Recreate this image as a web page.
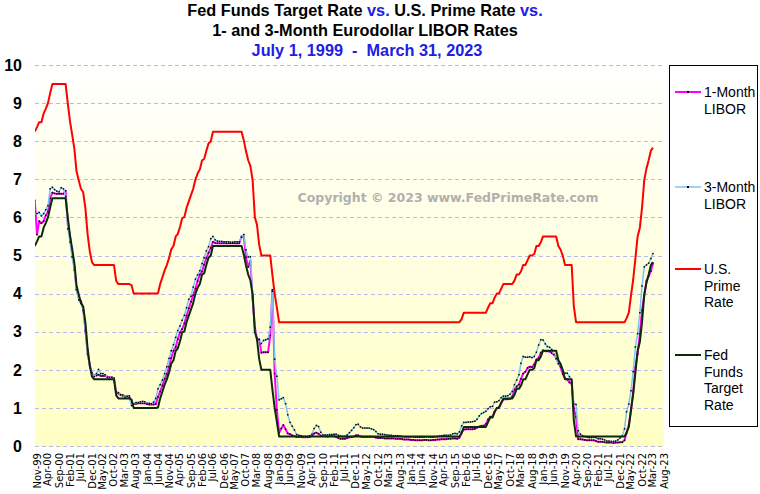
<!DOCTYPE html>
<html>
<head>
<meta charset="utf-8">
<script src="https://cdn.jsdelivr.net/npm/d3@7"></script>
<style>
  body { margin: 0; background: #fff; }
  svg { display: block; }
</style>
</head>
<body>
<div id="chart"></div>
<script>
let width = 760
let height = 494
let plot = { left: 35, right: 664, top: 60, bottom: 447 }

// monthly averages, Oct 1999 through Mar 2023 (one row per year)
const libor1m = [
  6.45, 5.55, 5.90,
  5.85, 5.90, 6.05, 6.15, 6.50, 6.65, 6.63, 6.62, 6.62, 6.62, 6.62, 6.70,
  5.80, 5.50, 5.05, 4.70, 4.10, 3.90, 3.80, 3.60, 3.05, 2.45, 2.10, 1.90,
  1.85, 1.85, 1.87, 1.84, 1.84, 1.84, 1.82, 1.80, 1.80, 1.78, 1.40, 1.38,
  1.34, 1.32, 1.30, 1.30, 1.31, 1.12, 1.10, 1.11, 1.12, 1.12, 1.12, 1.12,
  1.10, 1.09, 1.09, 1.09, 1.10, 1.29, 1.43, 1.59, 1.76, 1.88, 2.08, 2.31,
  2.50, 2.60, 2.80, 2.98, 3.07, 3.22, 3.42, 3.61, 3.79, 3.96, 4.13, 4.33,
  4.50, 4.58, 4.76, 4.93, 5.07, 5.20, 5.36, 5.33, 5.32, 5.32, 5.32, 5.33,
  5.32, 5.32, 5.32, 5.32, 5.32, 5.32, 5.32, 5.50, 5.50, 4.95, 4.70, 4.85,
  3.85, 3.12, 2.80, 2.80, 2.45, 2.46, 2.46, 2.46, 2.90, 4.10, 1.90, 0.95,
  0.35, 0.46, 0.55, 0.44, 0.33, 0.31, 0.28, 0.26, 0.24, 0.24, 0.24, 0.23,
  0.23, 0.23, 0.24, 0.26, 0.33, 0.35, 0.32, 0.27, 0.26, 0.26, 0.25, 0.26,
  0.26, 0.26, 0.24, 0.21, 0.19, 0.19, 0.19, 0.21, 0.23, 0.24, 0.25, 0.28,
  0.28, 0.25, 0.24, 0.24, 0.24, 0.24, 0.24, 0.24, 0.22, 0.21, 0.21, 0.21,
  0.20, 0.20, 0.20, 0.20, 0.20, 0.19, 0.19, 0.19, 0.18, 0.17, 0.17, 0.17,
  0.16, 0.16, 0.15, 0.15, 0.15, 0.15, 0.16, 0.16, 0.15, 0.15, 0.16, 0.16,
  0.17, 0.17, 0.18, 0.18, 0.18, 0.19, 0.19, 0.20, 0.20, 0.19, 0.22, 0.36,
  0.43, 0.44, 0.44, 0.44, 0.44, 0.45, 0.48, 0.51, 0.53, 0.53, 0.58, 0.70,
  0.77, 0.77, 0.90, 0.99, 1.02, 1.13, 1.22, 1.23, 1.23, 1.24, 1.30, 1.48,
  1.56, 1.61, 1.76, 1.90, 1.95, 2.05, 2.08, 2.07, 2.14, 2.27, 2.31, 2.45,
  2.51, 2.49, 2.49, 2.48, 2.44, 2.40, 2.30, 2.18, 2.07, 1.89, 1.77, 1.75,
  1.67, 1.63, 0.99, 0.76, 0.18, 0.18, 0.17, 0.16, 0.15, 0.15, 0.15, 0.15,
  0.13, 0.11, 0.11, 0.11, 0.10, 0.09, 0.09, 0.09, 0.08, 0.09, 0.09, 0.10,
  0.10, 0.15, 0.34, 0.55, 0.93, 1.42, 2.07, 2.42, 2.93, 3.56, 3.94, 4.33,
  4.46, 4.59, 4.79
]

const libor3m = [
  6.05, 6.10, 6.13,
  6.04, 6.10, 6.20, 6.31, 6.75, 6.79, 6.73, 6.69, 6.67, 6.78, 6.75, 6.55,
  5.70, 5.35, 4.96, 4.62, 4.10, 3.83, 3.75, 3.56, 3.02, 2.40, 2.10, 1.92,
  1.82, 1.90, 2.01, 1.90, 1.90, 1.87, 1.80, 1.75, 1.80, 1.75, 1.43, 1.40,
  1.35, 1.34, 1.28, 1.30, 1.28, 1.06, 1.11, 1.14, 1.14, 1.16, 1.17, 1.16,
  1.12, 1.12, 1.11, 1.15, 1.25, 1.50, 1.61, 1.73, 1.90, 2.08, 2.30, 2.50,
  2.66, 2.85, 3.03, 3.15, 3.30, 3.43, 3.63, 3.85, 3.93, 4.17, 4.38, 4.49,
  4.60, 4.79, 4.94, 5.12, 5.23, 5.44, 5.50, 5.41, 5.38, 5.37, 5.37, 5.36,
  5.36, 5.36, 5.35, 5.35, 5.36, 5.36, 5.36, 5.48, 5.55, 5.15, 4.96, 4.97,
  3.92, 3.09, 2.78, 2.79, 2.69, 2.77, 2.79, 2.81, 3.12, 4.06, 2.28, 1.83,
  1.21, 1.24, 1.27, 1.11, 0.82, 0.62, 0.52, 0.42, 0.30, 0.28, 0.27, 0.25,
  0.25, 0.25, 0.27, 0.31, 0.46, 0.54, 0.51, 0.36, 0.29, 0.29, 0.29, 0.30,
  0.30, 0.31, 0.31, 0.28, 0.26, 0.25, 0.25, 0.29, 0.35, 0.41, 0.48, 0.56,
  0.57, 0.50, 0.47, 0.47, 0.47, 0.47, 0.45, 0.43, 0.38, 0.32, 0.31, 0.31,
  0.30, 0.29, 0.28, 0.28, 0.27, 0.27, 0.27, 0.26, 0.25, 0.24, 0.24, 0.24,
  0.24, 0.24, 0.23, 0.23, 0.23, 0.23, 0.23, 0.24, 0.24, 0.23, 0.23, 0.24,
  0.25, 0.26, 0.27, 0.28, 0.28, 0.28, 0.29, 0.32, 0.33, 0.32, 0.37, 0.53,
  0.62, 0.62, 0.63, 0.63, 0.64, 0.65, 0.70, 0.79, 0.85, 0.88, 0.91, 0.98,
  1.03, 1.04, 1.15, 1.16, 1.19, 1.27, 1.31, 1.31, 1.32, 1.36, 1.43, 1.61,
  1.73, 1.87, 2.17, 2.35, 2.33, 2.33, 2.34, 2.32, 2.35, 2.46, 2.65, 2.79,
  2.78, 2.68, 2.61, 2.59, 2.53, 2.40, 2.29, 2.16, 2.13, 1.98, 1.91, 1.91,
  1.82, 1.68, 1.10, 1.09, 0.40, 0.31, 0.27, 0.25, 0.23, 0.22, 0.22, 0.23,
  0.22, 0.19, 0.19, 0.18, 0.16, 0.13, 0.13, 0.12, 0.12, 0.13, 0.16, 0.21,
  0.26, 0.45, 0.90, 1.10, 1.45, 1.95, 2.60, 2.95, 3.50, 4.20, 4.70, 4.75,
  4.80, 4.92, 5.05
]

const primeRate = [
  8.25, 8.37, 8.50,
  8.50, 8.73, 8.85, 9.00, 9.26, 9.50, 9.50, 9.50, 9.50, 9.50, 9.50, 9.50,
  8.98, 8.50, 8.18, 7.80, 7.21, 6.97, 6.75, 6.66, 6.23, 5.56, 5.10, 4.82,
  4.75, 4.75, 4.75, 4.75, 4.75, 4.75, 4.75, 4.75, 4.75, 4.75, 4.33, 4.25,
  4.25, 4.25, 4.25, 4.25, 4.25, 4.22, 4.00, 4.00, 4.00, 4.00, 4.00, 4.00,
  4.00, 4.00, 4.00, 4.00, 4.00, 4.01, 4.25, 4.43, 4.61, 4.75, 4.93, 5.16,
  5.25, 5.50, 5.56, 5.75, 5.98, 6.01, 6.25, 6.42, 6.59, 6.75, 7.00, 7.15,
  7.26, 7.50, 7.53, 7.75, 7.94, 8.00, 8.25, 8.25, 8.25, 8.25, 8.25, 8.25,
  8.25, 8.25, 8.25, 8.25, 8.25, 8.25, 8.25, 8.25, 8.02, 7.74, 7.50, 7.35,
  6.98, 6.00, 5.81, 5.28, 5.00, 5.00, 5.00, 5.00, 5.00, 4.48, 4.00, 3.64,
  3.25, 3.25, 3.25, 3.25, 3.25, 3.25, 3.25, 3.25, 3.25, 3.25, 3.25, 3.25,
  3.25, 3.25, 3.25, 3.25, 3.25, 3.25, 3.25, 3.25, 3.25, 3.25, 3.25, 3.25,
  3.25, 3.25, 3.25, 3.25, 3.25, 3.25, 3.25, 3.25, 3.25, 3.25, 3.25, 3.25,
  3.25, 3.25, 3.25, 3.25, 3.25, 3.25, 3.25, 3.25, 3.25, 3.25, 3.25, 3.25,
  3.25, 3.25, 3.25, 3.25, 3.25, 3.25, 3.25, 3.25, 3.25, 3.25, 3.25, 3.25,
  3.25, 3.25, 3.25, 3.25, 3.25, 3.25, 3.25, 3.25, 3.25, 3.25, 3.25, 3.25,
  3.25, 3.25, 3.25, 3.25, 3.25, 3.25, 3.25, 3.25, 3.25, 3.25, 3.25, 3.33,
  3.50, 3.50, 3.50, 3.50, 3.50, 3.50, 3.50, 3.50, 3.50, 3.50, 3.50, 3.63,
  3.75, 3.75, 3.89, 4.00, 4.00, 4.13, 4.25, 4.25, 4.25, 4.25, 4.25, 4.34,
  4.50, 4.50, 4.58, 4.75, 4.75, 4.88, 5.00, 5.00, 5.04, 5.25, 5.25, 5.35,
  5.50, 5.50, 5.50, 5.50, 5.50, 5.50, 5.50, 5.25, 5.15, 4.99, 4.75, 4.75,
  4.75, 4.75, 3.68, 3.25, 3.25, 3.25, 3.25, 3.25, 3.25, 3.25, 3.25, 3.25,
  3.25, 3.25, 3.25, 3.25, 3.25, 3.25, 3.25, 3.25, 3.25, 3.25, 3.25, 3.25,
  3.25, 3.25, 3.35, 3.50, 3.94, 4.37, 4.92, 5.50, 5.73, 6.25, 6.98, 7.28,
  7.50, 7.75, 7.83
]

const fedFunds = [
  5.25, 5.37, 5.50,
  5.50, 5.73, 5.85, 6.00, 6.26, 6.50, 6.50, 6.50, 6.50, 6.50, 6.50, 6.50,
  5.98, 5.50, 5.18, 4.80, 4.21, 3.97, 3.75, 3.66, 3.23, 2.56, 2.10, 1.82,
  1.75, 1.75, 1.75, 1.75, 1.75, 1.75, 1.75, 1.75, 1.75, 1.75, 1.33, 1.25,
  1.25, 1.25, 1.25, 1.25, 1.25, 1.22, 1.00, 1.00, 1.00, 1.00, 1.00, 1.00,
  1.00, 1.00, 1.00, 1.00, 1.00, 1.01, 1.25, 1.43, 1.61, 1.75, 1.93, 2.16,
  2.25, 2.50, 2.56, 2.75, 2.98, 3.01, 3.25, 3.42, 3.59, 3.75, 4.00, 4.15,
  4.26, 4.50, 4.53, 4.75, 4.94, 5.00, 5.25, 5.25, 5.25, 5.25, 5.25, 5.25,
  5.25, 5.25, 5.25, 5.25, 5.25, 5.25, 5.25, 5.25, 5.02, 4.74, 4.50, 4.35,
  3.98, 3.00, 2.81, 2.28, 2.00, 2.00, 2.00, 2.00, 2.00, 1.48, 1.00, 0.64,
  0.25, 0.25, 0.25, 0.25, 0.25, 0.25, 0.25, 0.25, 0.25, 0.25, 0.25, 0.25,
  0.25, 0.25, 0.25, 0.25, 0.25, 0.25, 0.25, 0.25, 0.25, 0.25, 0.25, 0.25,
  0.25, 0.25, 0.25, 0.25, 0.25, 0.25, 0.25, 0.25, 0.25, 0.25, 0.25, 0.25,
  0.25, 0.25, 0.25, 0.25, 0.25, 0.25, 0.25, 0.25, 0.25, 0.25, 0.25, 0.25,
  0.25, 0.25, 0.25, 0.25, 0.25, 0.25, 0.25, 0.25, 0.25, 0.25, 0.25, 0.25,
  0.25, 0.25, 0.25, 0.25, 0.25, 0.25, 0.25, 0.25, 0.25, 0.25, 0.25, 0.25,
  0.25, 0.25, 0.25, 0.25, 0.25, 0.25, 0.25, 0.25, 0.25, 0.25, 0.25, 0.33,
  0.50, 0.50, 0.50, 0.50, 0.50, 0.50, 0.50, 0.50, 0.50, 0.50, 0.50, 0.63,
  0.75, 0.75, 0.89, 1.00, 1.00, 1.13, 1.25, 1.25, 1.25, 1.25, 1.25, 1.34,
  1.50, 1.50, 1.58, 1.75, 1.75, 1.88, 2.00, 2.00, 2.04, 2.25, 2.25, 2.35,
  2.50, 2.50, 2.50, 2.50, 2.50, 2.50, 2.50, 2.25, 2.15, 1.99, 1.75, 1.75,
  1.75, 1.75, 0.68, 0.25, 0.25, 0.25, 0.25, 0.25, 0.25, 0.25, 0.25, 0.25,
  0.25, 0.25, 0.25, 0.25, 0.25, 0.25, 0.25, 0.25, 0.25, 0.25, 0.25, 0.25,
  0.25, 0.25, 0.35, 0.50, 0.94, 1.37, 1.92, 2.50, 2.73, 3.25, 3.98, 4.28,
  4.50, 4.75, 4.83
]

const xLabels = [
  'Nov-99', 'Apr-00', 'Sep-00', 'Feb-01', 'Jul-01', 'Dec-01', 'May-02', 'Oct-02',
  'Mar-03', 'Aug-03', 'Jan-04', 'Jun-04', 'Nov-04', 'Apr-05', 'Sep-05', 'Feb-06',
  'Jul-06', 'Dec-06', 'May-07', 'Oct-07', 'Mar-08', 'Aug-08', 'Jan-09', 'Jun-09',
  'Nov-09', 'Apr-10', 'Sep-10', 'Feb-11', 'Jul-11', 'Dec-11', 'May-12', 'Oct-12',
  'Mar-13', 'Aug-13', 'Jan-14', 'Jun-14', 'Nov-14', 'Apr-15', 'Sep-15', 'Feb-16',
  'Jul-16', 'Dec-16', 'May-17', 'Oct-17', 'Mar-18', 'Aug-18', 'Jan-19', 'Jun-19',
  'Nov-19', 'Apr-20', 'Sep-20', 'Feb-21', 'Jul-21', 'Dec-21', 'May-22', 'Oct-22',
  'Mar-23', 'Aug-23'
]
const yTicks = [0, 1, 2, 3, 4, 5, 6, 7, 8, 9, 10]

const seriesNames = ['1-Month LIBOR', '3-Month LIBOR', 'U.S. Prime Rate', 'Fed Funds Target Rate']
const legendLines = [['1-Month', 'LIBOR'], ['3-Month', 'LIBOR'], ['U.S.', 'Prime', 'Rate'], ['Fed', 'Funds', 'Target', 'Rate']]

let parseLabel = d3.utcParse('%b-%y')
let months = d3.utcMonth.range(new Date(Date.UTC(1999, 9, 1)), new Date(Date.UTC(2023, 3, 1)))

let series = [
  { name: seriesNames[0], values: libor1m, color: '#ff00ff', width: 2, dots: true },
  { name: seriesNames[1], values: libor3m, color: '#7fc4ec', width: 1.5, dots: true },
  { name: seriesNames[2], values: primeRate, color: '#ff0000', width: 2, dots: false },
  { name: seriesNames[3], values: fedFunds, color: '#0b2a0b', width: 2, dots: false }
]

let svg = d3
  .select('#chart')
  .append('svg')
  .attr('width', width)
  .attr('height', height)
  .style('font-family', '"Liberation Sans", Arial, sans-serif')

let x = d3
  .scaleUtc()
  .domain([parseLabel(xLabels[0]), parseLabel(xLabels[xLabels.length - 1])])
  .range([37, 664])

let y = d3
  .scaleLinear()
  .domain([0, 10])
  .range([446, 65])

// plot background: white fading to pale yellow
let defs = svg.append('defs')
let grad = defs
  .append('linearGradient')
  .attr('id', 'bg')
  .attr('x1', 0).attr('y1', 0)
  .attr('x2', 0).attr('y2', 1)
grad.append('stop').attr('offset', '0%').attr('stop-color', '#ffffff')
grad.append('stop').attr('offset', '100%').attr('stop-color', '#ffffc4')

defs
  .append('clipPath')
  .attr('id', 'clip')
  .append('rect')
  .attr('x', plot.left)
  .attr('y', plot.top - 5)
  .attr('width', plot.right - plot.left)
  .attr('height', plot.bottom - plot.top + 10)

svg
  .append('rect')
  .attr('x', plot.left)
  .attr('y', plot.top)
  .attr('width', plot.right - plot.left)
  .attr('height', plot.bottom - plot.top)
  .attr('fill', 'url(#bg)')

// dashed gridlines
svg
  .selectAll('.grid')
  .data(yTicks)
  .enter()
  .append('line')
  .attr('class', 'grid')
  .attr('x1', plot.left)
  .attr('x2', plot.right)
  .attr('y1', d => Math.round(y(d)) + 0.5)
  .attr('y2', d => Math.round(y(d)) + 0.5)
  .attr('stroke', '#b8b8f0')
  .attr('stroke-dasharray', '4,3')

// y labels
svg
  .selectAll('.ylab')
  .data(yTicks)
  .enter()
  .append('text')
  .attr('class', 'ylab')
  .attr('x', 22)
  .attr('y', d => y(d))
  .attr('dy', '0.36em')
  .attr('text-anchor', 'end')
  .attr('font-size', 16)
  .attr('font-weight', 'bold')
  .text(d => d)

// x labels, rotated
svg
  .selectAll('.xlab')
  .data(xLabels)
  .enter()
  .append('text')
  .attr('class', 'xlab')
  .attr('transform', d => `translate(${x(parseLabel(d))},453) rotate(-90)`)
  .attr('dy', '0.35em')
  .attr('text-anchor', 'end')
  .attr('font-family', '"DejaVu Sans", Verdana, sans-serif')
  .attr('font-size', 10)
  .text(d => d)

// watermark
svg
  .append('text')
  .attr('x', 448)
  .attr('y', 202)
  .attr('text-anchor', 'middle')
  .attr('font-family', '"DejaVu Sans", Verdana, sans-serif')
  .attr('font-weight', 'bold')
  .attr('font-size', 12.5)
  .attr('fill', '#b0b0b0')
  .text('Copyright © 2023 www.FedPrimeRate.com')

// the four rate lines
let line = d3
  .line()
  .x((d, i) => x(months[i]))
  .y(d => y(d))

let g = svg.append('g').attr('clip-path', 'url(#clip)')

series.forEach(s => {
  g.append('path')
    .datum(s.values)
    .attr('d', line)
    .attr('fill', 'none')
    .attr('stroke', s.color)
    .attr('stroke-width', s.width)
    .attr('stroke-linejoin', 'round')

  if (s.dots) {
    g.selectAll(null)
      .data(s.values)
      .enter()
      .append('rect')
      .attr('x', (d, i) => x(months[i]) - 0.75)
      .attr('y', d => y(d) - 0.75)
      .attr('width', 1.5)
      .attr('height', 1.5)
      .attr('fill', '#000')
  }
})

// title
let title = svg.append('g').attr('font-weight', 'bold').attr('font-size', 16.3).attr('text-anchor', 'middle')
let t1 = title.append('text').attr('x', 365).attr('y', 16)
t1.append('tspan').text('Fed Funds Target Rate ')
t1.append('tspan').attr('fill', '#2020e0').text('vs.')
t1.append('tspan').text(' U.S. Prime Rate ')
t1.append('tspan').attr('fill', '#2020e0').text('vs.')
title.append('text').attr('x', 365).attr('y', 36).text('1- and 3-Month Eurodollar LIBOR Rates')
title
  .append('text')
  .attr('x', 367)
  .attr('y', 56)
  .attr('fill', '#2020e0')
  .attr('xml:space', 'preserve')
  .text('July 1, 1999  -  March 31, 2023')

// legend
let legend = svg.append('g')
legend
  .append('rect')
  .attr('x', 669.5)
  .attr('y', 65.5)
  .attr('width', 88)
  .attr('height', 361)
  .attr('fill', '#fff')
  .attr('stroke', '#000')

let legendY = [92, 187, 269, 355]

series.forEach((s, i) => {
  let ly = legendY[i]
  legend
    .append('line')
    .attr('x1', 675)
    .attr('x2', 701)
    .attr('y1', ly)
    .attr('y2', ly)
    .attr('stroke', s.color)
    .attr('stroke-width', s.width)
  if (s.dots) {
    legend.append('rect').attr('x', 687).attr('y', ly - 1).attr('width', 2).attr('height', 2).attr('fill', '#000')
  }
  let txt = legend
    .append('text')
    .attr('x', 704)
    .attr('y', ly)
    .attr('font-size', 14)
  legendLines[i].forEach((l, j) => {
    txt.append('tspan').attr('x', 704).attr('y', ly + j * 16.6).attr('dy', '0.35em').text(l)
  })
})
</script>
</body>
</html>
